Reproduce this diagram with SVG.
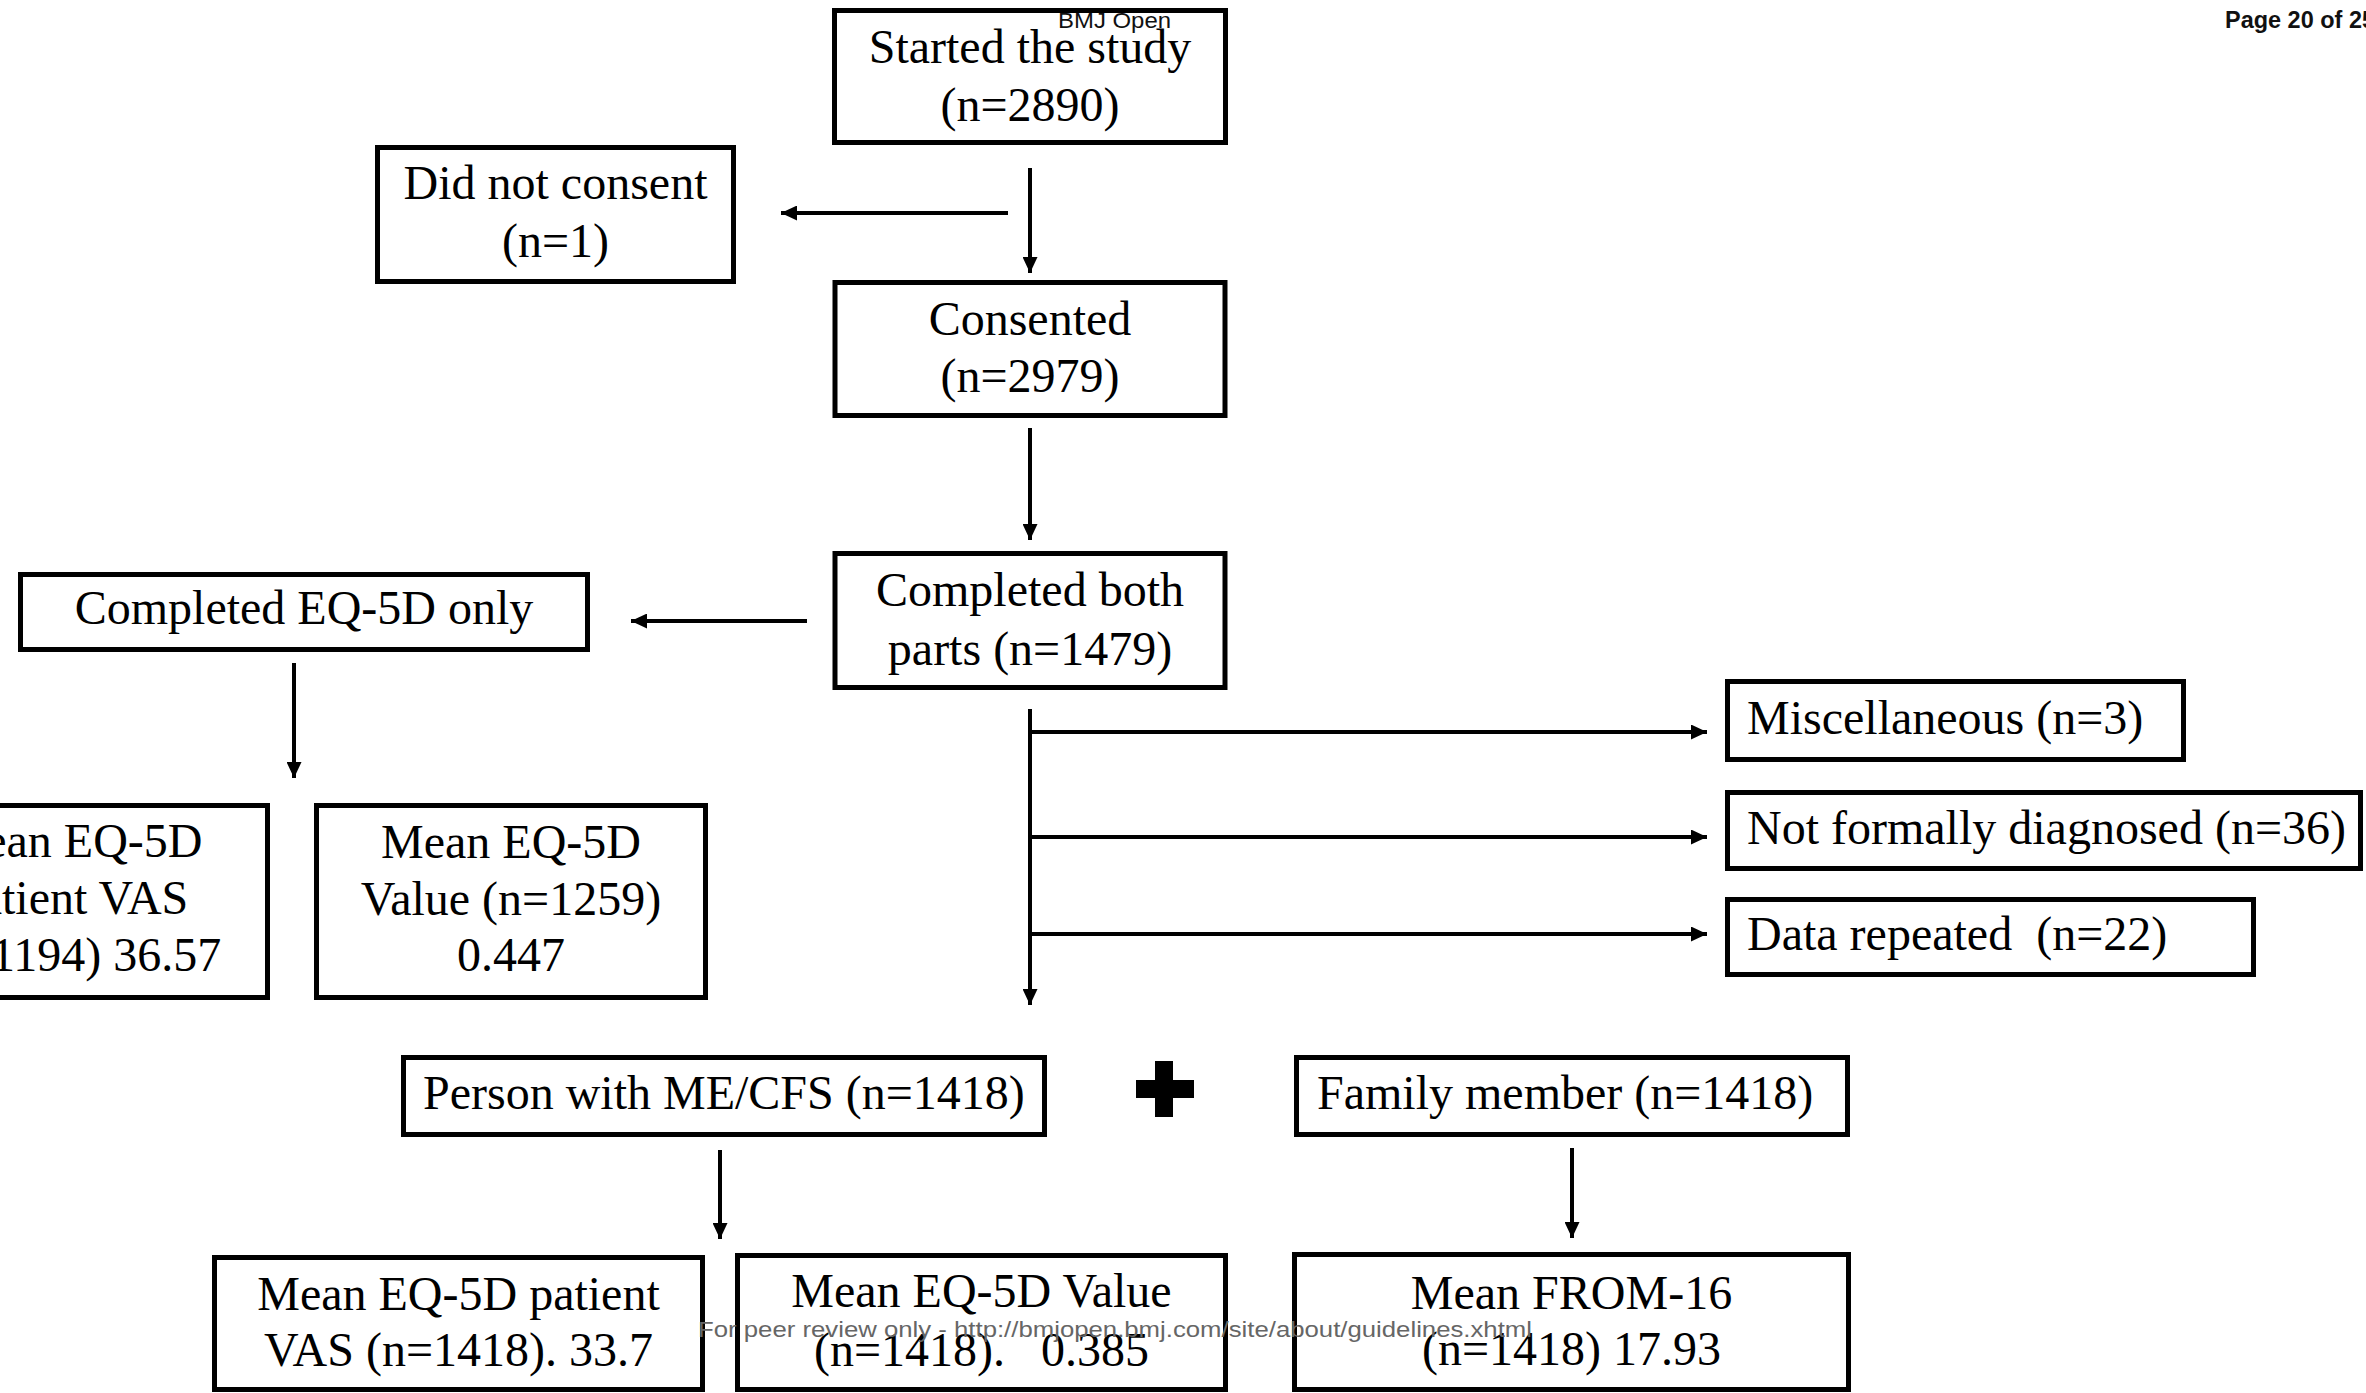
<svg xmlns="http://www.w3.org/2000/svg" width="2366" height="1393" viewBox="0 0 2366 1393">
<style>
.box{fill:#fff;stroke:#000;stroke-width:5}
.t{font-family:"Liberation Serif","Times New Roman",serif;font-size:48px;fill:#000}
.c{text-anchor:middle}
.pre{white-space:pre}
.conn line{stroke:#000;stroke-width:4;fill:none}
.hdr{font-family:"Liberation Sans",Arial,sans-serif;fill:#111}
.wm{font-family:"Liberation Sans",Arial,sans-serif;font-size:22px;fill:#666}
</style>
<defs>
<marker id="ah" markerUnits="userSpaceOnUse" markerWidth="16" markerHeight="15" refX="16" refY="7.5" orient="auto">
<path d="M0,0 L16,7.5 L0,15 z" fill="#000"/>
</marker>
</defs>
<rect x="0" y="0" width="2366" height="1393" fill="#fff"/>

<g id="n-started">
<rect class="box" x="834.5" y="10.5" width="391" height="132"/>
<text class="t c" x="1030" y="63">Started the study</text>
<text class="t c" x="1030" y="121">(n=2890)</text>
</g>
<g id="n-notconsent">
<rect class="box" x="377.5" y="147.5" width="356" height="134"/>
<text class="t c" x="555.5" y="199">Did not consent</text>
<text class="t c" x="555.5" y="257">(n=1)</text>
</g>
<g id="n-consented">
<rect class="box" x="835" y="282.5" width="390" height="133"/>
<text class="t c" x="1030" y="335">Consented</text>
<text class="t c" x="1030" y="392">(n=2979)</text>
</g>
<g id="n-both">
<rect class="box" x="835" y="553.5" width="390" height="134"/>
<text class="t c" x="1030" y="606">Completed both</text>
<text class="t c" x="1030" y="665">parts (n=1479)</text>
</g>
<g id="n-eqonly">
<rect class="box" x="20.5" y="574.5" width="567" height="75"/>
<text class="t c" x="304" y="624">Completed EQ-5D only</text>
</g>
<g id="n-vas1">
<rect class="box" x="-122" y="805.5" width="389.5" height="192"/>
<text class="t c" x="72.5" y="857">Mean EQ-5D</text>
<text class="t c" x="72.5" y="914">patient VAS</text>
<text class="t c" x="72.5" y="971">(n=1194) 36.57</text>
</g>
<g id="n-val1">
<rect class="box" x="316.5" y="805.5" width="389" height="192"/>
<text class="t c" x="511" y="858">Mean EQ-5D</text>
<text class="t c" x="511" y="915">Value (n=1259)</text>
<text class="t c" x="511" y="971">0.447</text>
</g>
<g id="n-misc">
<rect class="box" x="1727.5" y="681.5" width="456" height="78"/>
<text class="t" x="1747" y="734">Miscellaneous (n=3)</text>
</g>
<g id="n-notdiag">
<rect class="box" x="1727.5" y="792.5" width="633" height="76"/>
<text class="t" x="1747" y="844">Not formally diagnosed (n=36)</text>
</g>
<g id="n-repeat">
<rect class="box" x="1727.5" y="899.5" width="526" height="75"/>
<text class="t pre" x="1747" y="950">Data repeated  (n=22)</text>
</g>
<g id="n-person">
<rect class="box" x="403.5" y="1057.5" width="641" height="77"/>
<text class="t" x="423" y="1109">Person with ME/CFS (n=1418)</text>
</g>
<g id="n-plus">
<path d="M1155,1061 H1173 V1080 H1194 V1098 H1173 V1117 H1155 V1098 H1136 V1080 H1155 Z" fill="#000"/>
</g>
<g id="n-family">
<rect class="box" x="1296.5" y="1057.5" width="551" height="77"/>
<text class="t" x="1317" y="1109">Family member (n=1418)</text>
</g>
<g id="n-vas2">
<rect class="box" x="214.5" y="1257.5" width="488" height="132"/>
<text class="t c" x="458.5" y="1310">Mean EQ-5D patient</text>
<text class="t c" x="458.5" y="1366">VAS (n=1418). 33.7</text>
</g>
<g id="n-val2">
<rect class="box" x="737.5" y="1255.5" width="488" height="134"/>
<text class="t c" x="981.5" y="1307">Mean EQ-5D Value</text>
<text class="t c pre" x="981.5" y="1366">(n=1418).   0.385</text>
</g>
<g id="n-from16">
<rect class="box" x="1294.5" y="1254.5" width="554" height="135"/>
<text class="t c" x="1571.5" y="1309">Mean FROM-16</text>
<text class="t c" x="1571.5" y="1365">(n=1418) 17.93</text>
</g>

<g id="connectors" class="conn">
<line x1="1030" y1="168" x2="1030" y2="273" marker-end="url(#ah)"/>
<line x1="1008" y1="213" x2="781" y2="213" marker-end="url(#ah)"/>
<line x1="1030" y1="428" x2="1030" y2="540" marker-end="url(#ah)"/>
<line x1="807" y1="621" x2="631" y2="621" marker-end="url(#ah)"/>
<line x1="294" y1="663" x2="294" y2="778" marker-end="url(#ah)"/>
<line x1="1030" y1="709" x2="1030" y2="1005" marker-end="url(#ah)"/>
<line x1="1030" y1="732" x2="1707" y2="732" marker-end="url(#ah)"/>
<line x1="1030" y1="837" x2="1707" y2="837" marker-end="url(#ah)"/>
<line x1="1030" y1="934" x2="1707" y2="934" marker-end="url(#ah)"/>
<line x1="720" y1="1150" x2="720" y2="1239" marker-end="url(#ah)"/>
<line x1="1572" y1="1148" x2="1572" y2="1238" marker-end="url(#ah)"/>
</g>

<text class="hdr" x="1058" y="28" font-size="22" textLength="113" lengthAdjust="spacingAndGlyphs">BMJ Open</text>
<text class="hdr" x="2225" y="28" font-size="24" font-weight="bold" textLength="150" lengthAdjust="spacingAndGlyphs">Page 20 of 25</text>
<text class="wm" x="698" y="1337" textLength="834" lengthAdjust="spacingAndGlyphs">For peer review only - http://bmjopen.bmj.com/site/about/guidelines.xhtml</text>
</svg>
